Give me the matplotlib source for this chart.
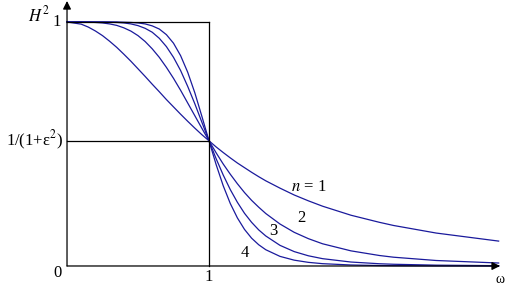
import matplotlib.pyplot as plt

# frequency samples (omega) and |H|^2 for n = 1..4
omega = [0, 0.1, 0.15, 0.2, 0.25, 0.3, 0.35, 0.4, 0.45, 0.5, 0.55, 0.6, 0.65, 0.7, 0.75,
         0.8, 0.85, 0.9, 0.95, 1.0, 1.05, 1.1, 1.15, 1.2, 1.25, 1.3, 1.35, 1.4, 1.5,
         1.6, 1.7, 1.8, 2.0, 2.2, 2.3, 2.6, 3.04]
h_n1 = [1.0, 0.991, 0.979, 0.963, 0.944, 0.921, 0.896, 0.868, 0.839, 0.808, 0.777, 0.745,
        0.714, 0.682, 0.652, 0.622, 0.593, 0.565, 0.538, 0.513, 0.488, 0.465, 0.443, 0.422,
        0.403, 0.384, 0.366, 0.349, 0.319, 0.291, 0.267, 0.245, 0.208, 0.179, 0.166, 0.135,
        0.102]
h_n2 = [1.0, 1.0, 0.9995, 0.998, 0.996, 0.992, 0.986, 0.976, 0.9625, 0.944, 0.920, 0.890,
        0.855, 0.814, 0.769, 0.720, 0.668, 0.616, 0.564, 0.513, 0.464, 0.418, 0.376, 0.337,
        0.301, 0.269, 0.241, 0.215, 0.172, 0.138, 0.112, 0.091, 0.062, 0.043, 0.036, 0.0225,
        0.0122]
h_n3 = [1.0, 1.0, 1.0, 1.0, 1.0, 0.999, 0.998, 0.996, 0.992, 0.985, 0.974, 0.958,
        0.933, 0.899, 0.855, 0.801, 0.736, 0.665, 0.589, 0.513, 0.440, 0.373, 0.313, 0.261,
        0.216, 0.179, 0.148, 0.123, 0.0846, 0.059, 0.0418, 0.030, 0.0162, 0.0092, 0.0071,
        0.0034, 0.0013]
h_n4 = [1.0, 1.0, 1.0, 1.0, 1.0, 1.0, 1.0, 0.999, 0.998, 0.996, 0.992, 0.984,
        0.971, 0.948, 0.913, 0.862, 0.794, 0.710, 0.613, 0.513, 0.416, 0.329, 0.256, 0.197,
        0.150, 0.114, 0.0871, 0.0666, 0.0394, 0.0239, 0.0149, 0.0095, 0.0041, 0.0019, 0.0013,
        0.0005, 0.0001]
curves = [h_n1, h_n2, h_n3, h_n4]
cutoff = 0.513   # 1/(1+eps^2)

serif = 'Liberation Serif'
blue = '#1a1a9c'

fig = plt.figure(figsize=(5.09, 2.86), dpi=100)
ax = fig.add_axes([0, 0, 1, 1])
ax.set_xlim(-0.472, 3.113)
ax.set_ylim(-0.082, 1.090)
ax.axis('off')

for h in curves:
    ax.plot(omega, h, color=blue, lw=0.9)

# reference box lines
ax.plot([0, 1], [1, 1], color='black', lw=0.9)
ax.plot([1, 1], [0, 1], color='black', lw=0.9)
ax.plot([0, 1], [cutoff, cutoff], color='black', lw=0.9)

# axes with arrows
arrow = dict(arrowstyle='-|>', color='black', lw=0.9, mutation_scale=12, shrinkA=0, shrinkB=0)
ax.annotate('', xy=(3.05, 0), xytext=(0, 0), arrowprops=arrow)
ax.annotate('', xy=(0, 1.086), xytext=(0, 0), arrowprops=arrow)

fs = 12
ax.text(-0.12, 1.025, r'$H^2$', fontsize=fs, ha='right', va='center',
        math_fontfamily='stix')
ax.text(-0.04, 1.0, '1', fontsize=fs, ha='right', va='center', family=serif)
ax.text(-0.03, cutoff, '1/(1+ε$^2$)', fontsize=fs, ha='right', va='center', family=serif,
        math_fontfamily='stix')
ax.text(-0.04, -0.03, '0', fontsize=fs, ha='right', va='center', family=serif)
ax.text(1.0, -0.045, '1', fontsize=fs, ha='center', va='center', family=serif)
ax.text(3.05, -0.055, 'ω', fontsize=fs - 2, ha='center', va='center', family=serif)

ax.text(1.70, 0.325, r'$n$ = 1', fontsize=fs, ha='center', va='center', family=serif,
        math_fontfamily='stix')
ax.text(1.65, 0.195, '2', fontsize=fs, ha='center', va='center', family=serif)
ax.text(1.455, 0.145, '3', fontsize=fs, ha='center', va='center', family=serif)
ax.text(1.255, 0.055, '4', fontsize=fs, ha='center', va='center', family=serif)

fig.savefig('out.png', dpi=100)
